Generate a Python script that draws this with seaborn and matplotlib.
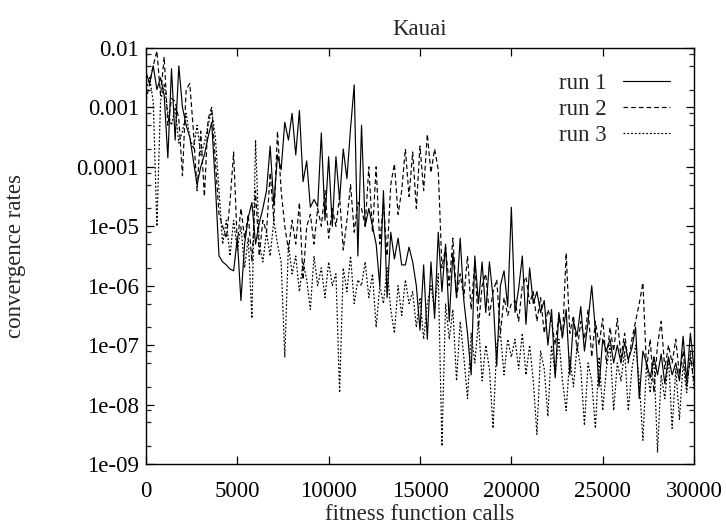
import numpy as np
import pandas as pd
import matplotlib
matplotlib.use("Agg")
import matplotlib.pyplot as plt
import matplotlib.ticker as mticker
import seaborn as sns

# ---- data (values stored as log10 of the convergence rate) ----
calls = list(range(0, 30001, 200))

run1_log10 = [
    -2.4, -2.6, -2.3, -2.7, -2.5, -2.8, -3.85, -2.35, -3.55, -2.3,
    -3.0, -3.3, -3.5, -3.9, -4.3, -4.0, -3.8, -3.5, -3.25, -4.3,
    -5.5, -5.6, -5.65, -5.72, -5.75, -5.2, -6.25, -5.3, -4.85, -4.6,
    -5.3, -4.95, -4.7, -4.4, -3.65, -4.65, -3.8, -4.05, -3.25, -3.55,
    -3.1, -3.8, -3.05, -4.25, -3.9, -4.68, -4.55, -4.67, -3.43, -4.9,
    -3.83, -5.0, -3.83, -4.56, -3.7, -4.2, -3.35, -2.62, -5.5, -3.3,
    -5.0, -4.7, -5.0, -5.3, -6.0, -4.4, -6.2, -5.1, -5.55, -5.2,
    -5.65, -5.65, -5.35, -5.6, -6.0, -6.75, -5.65, -6.9, -5.6, -6.55,
    -5.1, -6.1, -5.3, -6.6, -5.45, -6.2, -5.2, -6.25, -6.8, -7.5,
    -5.5, -6.3, -5.6, -6.45, -5.6, -6.2, -7.35, -6.0, -5.75, -6.35,
    -4.68, -6.45, -6.05, -5.5, -6.65, -5.7, -6.3, -6.1, -6.45, -6.25,
    -7.0, -6.4, -7.55, -6.45, -6.85, -6.4, -7.5, -6.6, -6.85, -6.35,
    -7.1, -6.6, -6.0, -6.75, -7.7, -6.9, -7.1, -6.9, -7.3, -7.0,
    -7.3, -6.95, -7.25, -7.05, -6.7, -7.9, -7.1, -7.3, -7.55, -7.2,
    -7.5, -7.15, -7.65, -7.2, -7.5, -7.3, -7.6, -6.85, -7.6, -6.8,
    -7.4,
]

run2_log10 = [
    -2.9, -2.6, -2.3, -2.05, -2.8, -2.15, -3.3, -2.85, -2.9, -3.2,
    -4.15, -2.7, -2.6, -3.4, -4.4, -3.4, -4.5, -3.2, -3.0, -3.9,
    -4.8, -5.0, -5.2, -4.6, -3.75, -5.3, -4.7, -5.2, -4.8, -5.6,
    -4.4, -5.5, -4.9, -5.1, -4.1, -4.9, -3.4, -4.4, -5.0, -5.4,
    -4.9, -5.3, -4.6, -5.9, -5.0, -4.8, -5.3, -4.7, -5.0, -4.4,
    -5.2, -4.7, -5.0, -4.5, -5.4, -4.9, -4.3, -5.1, -4.6, -4.7,
    -5.0, -4.0, -5.1, -4.0, -5.3, -4.6, -5.5, -4.3, -3.95, -4.8,
    -4.4, -3.7, -4.5, -3.75, -4.7, -3.65, -4.4, -3.45, -4.1, -3.7,
    -4.05, -5.7, -5.35, -6.0, -5.2, -6.2, -5.8, -6.2, -5.5, -6.4,
    -5.6, -6.7, -6.0, -5.8, -6.5, -6.1, -5.9, -6.8, -6.2, -6.5,
    -6.3, -6.25, -6.6, -6.0, -5.85, -6.3, -6.1, -6.6, -6.2, -6.8,
    -6.4, -6.6, -7.0, -6.5, -6.9, -5.45, -6.8, -6.5, -7.1, -6.6,
    -6.9, -6.4, -7.2, -6.6, -7.0, -6.55, -7.3, -6.7, -7.1, -6.55,
    -7.2, -6.8, -7.3, -6.9, -6.6, -6.3, -5.95, -7.4, -6.9, -7.8,
    -7.0, -6.6, -7.4, -7.0, -7.3, -6.9, -7.5, -7.1, -7.7, -7.2,
    -7.6,
]

run3_log10 = [
    -2.7, -2.5, -2.9, -5.0, -2.9, -2.6, -3.1, -3.3, -3.0, -3.6,
    -3.4, -3.1, -3.5, -3.7, -3.3, -3.8, -3.6, -3.3, -3.05, -3.5,
    -4.4, -5.3, -4.9, -5.5, -4.9, -5.4, -5.0, -5.7, -5.2, -6.55,
    -3.55, -5.3, -5.6, -5.1, -5.5, -4.9, -5.3, -5.6, -7.2, -5.3,
    -5.8, -5.5, -6.1, -5.6, -5.9, -6.4, -5.5, -6.0, -5.7, -6.2,
    -5.6, -6.0, -5.8, -7.8, -5.7, -6.1, -5.5, -6.3, -5.9, -6.0,
    -5.6, -6.2, -5.8, -6.7, -6.0, -6.3, -5.7, -6.4, -6.8, -6.0,
    -6.5, -5.9, -6.3, -6.1, -6.7, -6.2, -6.9, -6.3, -6.0, -6.4,
    -5.8, -8.7, -6.3, -6.9, -6.4, -7.6, -6.6, -7.2, -7.9, -6.8,
    -7.3, -6.6, -7.6, -7.0, -7.4, -8.4, -7.0, -6.8, -7.5, -6.9,
    -7.2, -6.9, -7.4, -6.8, -7.5, -7.0, -7.6, -8.5, -7.1, -7.4,
    -8.2, -7.0, -7.5, -6.9, -7.6, -8.1, -7.2, -7.7, -7.0, -7.4,
    -8.35, -7.3, -7.6, -8.4, -7.2, -8.1, -7.4, -7.0, -8.1, -7.3,
    -7.6, -7.1, -8.1, -7.4, -7.0, -7.6, -8.6, -7.3, -7.8, -7.2,
    -8.8, -7.5, -7.9, -7.2, -8.4, -7.4, -8.25, -7.3, -7.8, -7.1,
    -7.75,
]

run_labels = ["run 1", "run 2", "run 3"]
ytick_values = [1e-2, 1e-3, 1e-4, 1e-5, 1e-6, 1e-7, 1e-8, 1e-9]
ytick_labels = ["0.01", "0.001", "0.0001", "1e-05", "1e-06", "1e-07", "1e-08", "1e-09"]
xtick_values = [0, 5000, 10000, 15000, 20000, 25000, 30000]

# ---- build long table ----
frames = []
for lab, vals in zip(run_labels, [run1_log10, run2_log10, run3_log10]):
    frames.append(pd.DataFrame({"calls": calls,
                                "rate": np.power(10.0, np.array(vals)),
                                "run": lab}))
df = pd.concat(frames, ignore_index=True)

sns.set_style("ticks")
plt.rcParams["font.family"] = ["Liberation Serif", "DejaVu Serif"]

fig = plt.figure(figsize=(7.26, 5.27), dpi=100)
ax = fig.add_axes([0.201, 0.1195, 0.755, 0.7895])

dash_map = {"run 1": "", "run 2": (4, 2.5), "run 3": (1.6, 1.6)}
sns.lineplot(data=df, x="calls", y="rate", hue="run", style="run",
             palette=["black", "black", "black"], dashes=dash_map,
             linewidth=0.85, ax=ax, legend=True, estimator=None, sort=False)

ax.set_yscale("log")
ax.set_xlim(0, 30000)
ax.set_ylim(1e-9, 1e-2)
ax.set_xticks(xtick_values)
ax.set_xticklabels([str(v) for v in xtick_values])
ax.yaxis.set_major_locator(mticker.FixedLocator(ytick_values))
ax.yaxis.set_major_formatter(mticker.FixedFormatter(ytick_labels))
ax.yaxis.set_minor_locator(mticker.LogLocator(base=10, subs=[2, 5, 8], numticks=20))
ax.yaxis.set_minor_formatter(mticker.NullFormatter())
ax.xaxis.set_minor_locator(mticker.NullLocator())

fs = 16.5
ax.tick_params(axis="both", which="major", direction="in", length=6, width=0.9,
               top=True, right=True, labelsize=fs, colors="black")
ax.tick_params(axis="both", which="minor", direction="in", length=3.5, width=0.9,
               top=True, right=True)
ax.tick_params(axis="x", which="major", pad=12)
ax.tick_params(axis="y", which="major", pad=5)
for s in ax.spines.values():
    s.set_visible(True)
    s.set_linewidth(1.0)
    s.set_color("black")

ax.set_title("Kauai", fontsize=fs, pad=9)
ax.set_xlabel("fitness function calls", fontsize=fs, labelpad=2)
ax.set_ylabel("convergence rates", fontsize=fs, labelpad=36)

handles, labels = ax.get_legend_handles_labels()
leg = ax.legend(handles, labels, loc="upper right", bbox_to_anchor=(1.0, 0.997),
                frameon=False, markerfirst=False, fontsize=fs,
                handlelength=2.05, handletextpad=0.7, labelspacing=0.2,
                borderaxespad=0.65)
for t in leg.get_texts():
    t.set_ha("right")

fig.savefig("out.png", dpi=100)
